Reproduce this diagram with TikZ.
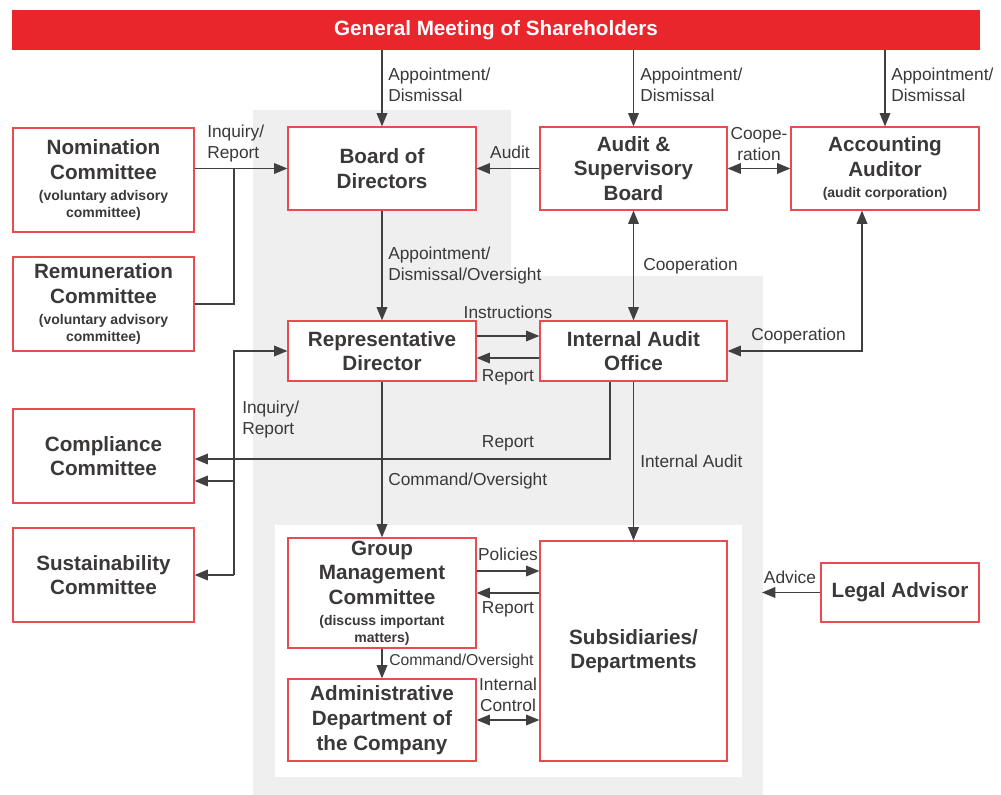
\documentclass[tikz,border=0pt]{standalone}
\usepackage{fontspec}
\setmainfont{Liberation Sans}
\usetikzlibrary{arrows.meta,positioning}
\definecolor{bannerred}{HTML}{E8262C}
\definecolor{boxred}{HTML}{E84B50}
\definecolor{txtgray}{HTML}{3B3838}
\definecolor{linegray}{HTML}{404040}
\definecolor{bggray}{HTML}{EFEFEF}
\newcommand{\smallbf}{\fontsize{10.5}{13}\selectfont}

\begin{document}
\begin{tikzpicture}[x=0.75pt,y=-0.75pt,
  box/.style={draw=boxred,line width=0.9pt,fill=white,align=center,text=txtgray,
    font=\fontsize{15.5}{18.5}\selectfont\bfseries,inner sep=2pt},
  lbl/.style={text=txtgray,font=\fontsize{13}{15.75}\selectfont,inner sep=0pt,align=left},
  arr/.style={draw=linegray,line width=1pt,-{Triangle[length=10pt,width=8pt]}},
  darr/.style={draw=linegray,line width=1pt,{Triangle[length=10pt,width=8pt]}-{Triangle[length=10pt,width=8pt]}},
  conn/.style={draw=linegray,line width=1pt}]
\useasboundingbox (0,0) rectangle (1001,795);
% backgrounds
\fill[bggray] (253,110) -- (511,110) -- (511,276) -- (763,276) -- (763,795) -- (253,795) -- cycle;
\fill[white] (275,525) rectangle (742,777);

\node[fill=bannerred,text=white,font=\fontsize{15.5}{18}\selectfont\bfseries,
  minimum width=726pt,minimum height=30pt] (gms) at (496,30) {General Meeting of Shareholders};

\node[box,minimum width=135.75pt,minimum height=78pt] (nom) at (103.5,180)
  {Nomination\\Committee\\[-3pt]\smallbf (voluntary advisory\\[-5.5pt]\smallbf committee)};
\node[box,minimum width=135.75pt,minimum height=70.5pt] (rem) at (103.5,304)
  {Remuneration\\Committee\\[-3pt]\smallbf (voluntary advisory\\[-5.5pt]\smallbf committee)};
\node[box,minimum width=135.75pt,minimum height=70.5pt] (comp) at (103.5,456)
  {Compliance\\Committee};
\node[box,minimum width=135.75pt,minimum height=70.5pt] (sus) at (103.5,575)
  {Sustainability\\Committee};
\node[box,minimum width=141pt,minimum height=62.25pt] (board) at (382,168.5)
  {Board of\\Directors};
\node[box,minimum width=140.25pt,minimum height=62.25pt] (asb) at (633.5,168.5)
  {Audit \&\\Supervisory\\Board};
\node[box,minimum width=141pt,minimum height=62.25pt] (acc) at (885,168.5)
  {Accounting\\Auditor\\[-3pt]\smallbf (audit corporation)};
\node[box,minimum width=141pt,minimum height=45pt] (rep) at (382,351)
  {Representative\\Director};
\node[box,minimum width=140.25pt,minimum height=45pt] (iao) at (633.5,351)
  {Internal Audit\\Office};
\node[box,minimum width=141pt,minimum height=78pt] (gmc) at (382,593)
  {Group\\Management\\Committee\\[-3pt]\smallbf (discuss important\\[-5.5pt]\smallbf matters)};
\node[box,minimum width=141pt,minimum height=61.5pt] (adm) at (382,720)
  {Administrative\\Department of\\the Company};
\node[box,minimum width=140.25pt,minimum height=165pt] (sub) at (633.5,651)
  {Subsidiaries/\\Departments};
\node[box,minimum width=118.5pt,minimum height=44.25pt] (legal) at (900,592.5)
  {Legal Advisor};

\coordinate (bt) at (234,351);
\coordinate (bm) at (234,481);
\coordinate (bb) at (234,575);
\coordinate (rpt) at (610,459);
\coordinate (adv) at (762,592.5);

\draw[arr] (gms.south -| board) -- (board);
\draw[arr] (gms.south -| asb) -- (asb);
\draw[arr] (gms.south -| acc) -- (acc);
\draw[arr] (nom.east |- board.west) -- (board.west);
\draw[conn] (rem.east) -| (234,168.5);
\draw[arr] (asb.west) -- (board.east);
\draw[darr] (asb.east) -- (acc.west);
\draw[arr] (board) -- (rep);
\draw[darr] (asb) -- (iao);
\draw[darr] ([xshift=-17.25pt]acc.south) |- (iao.east);
\draw[arr] ([yshift=11.25pt]rep.east) -- ([yshift=11.25pt]iao.west);
\draw[arr] ([yshift=-5.25pt]iao.west) -- ([yshift=-5.25pt]rep.east);
\draw[arr] (iao.south -| rpt) |- (comp.east |- rpt);
\draw[arr] (bb) -- (bt) -- (rep.west);
\draw[arr] (bm) -- (comp.east |- bm);
\draw[arr] (bb) -- (sus.east);
\draw[arr] (rep) -- (gmc);
\draw[arr] (iao) -- (sub);
\draw[arr] ([yshift=16.5pt]gmc.east) -- ([yshift=16.5pt]gmc.east -| sub.west);
\draw[arr] (gmc.east -| sub.west) -- (gmc.east);
\draw[arr] (gmc) -- (adm);
\draw[darr] (adm.east) -- (adm.east -| sub.west);
\draw[arr] (legal.west) -- (adv);

% labels
\node[lbl,anchor=west] (l1) at (388,85) {Appointment/\\Dismissal};
\node[lbl,anchor=west] (l2) at (640,85) {Appointment/\\Dismissal};
\node[lbl,anchor=west] (l3) at (891,85) {Appointment/\\Dismissal};
\node[lbl,anchor=west] (l4) at (207,144) {Inquiry/\\Report};
\node[lbl] (l5) at (510,152) {Audit};
\node[lbl,align=center] (l6) at (759,144) {Coope-\\ration};
\node[lbl,anchor=west] (l7) at (388,266) {Appointment/\\Dismissal/Oversight};
\node[lbl,anchor=west] (l8) at (643,266) {Cooperation};
\node[lbl] (l9) at (508,312) {Instructions};
\node[lbl] (l10) at (508,377) {Report};
\node[lbl,anchor=west] (l11) at (751,336) {Cooperation};
\node[lbl,anchor=west] (l12) at (242,420) {Inquiry/\\Report};
\node[lbl] (l13) at (508,443) {Report};
\node[lbl,anchor=west] (l14) at (388,481) {Command/Oversight};
\node[lbl,anchor=west] (l15) at (640,461) {Internal Audit};
\node[lbl] (l16) at (508,554) {Policies};
\node[lbl] (l17) at (508,609) {Report};
\node[lbl,anchor=west,font=\fontsize{11.8}{14}\selectfont] (l18) at (389,661) {Command/Oversight};
\node[lbl,align=center] (l19) at (508,695) {Internal\\Control};
\node[lbl] (l20) at (790,577) {Advice};
\end{tikzpicture}
\end{document}
